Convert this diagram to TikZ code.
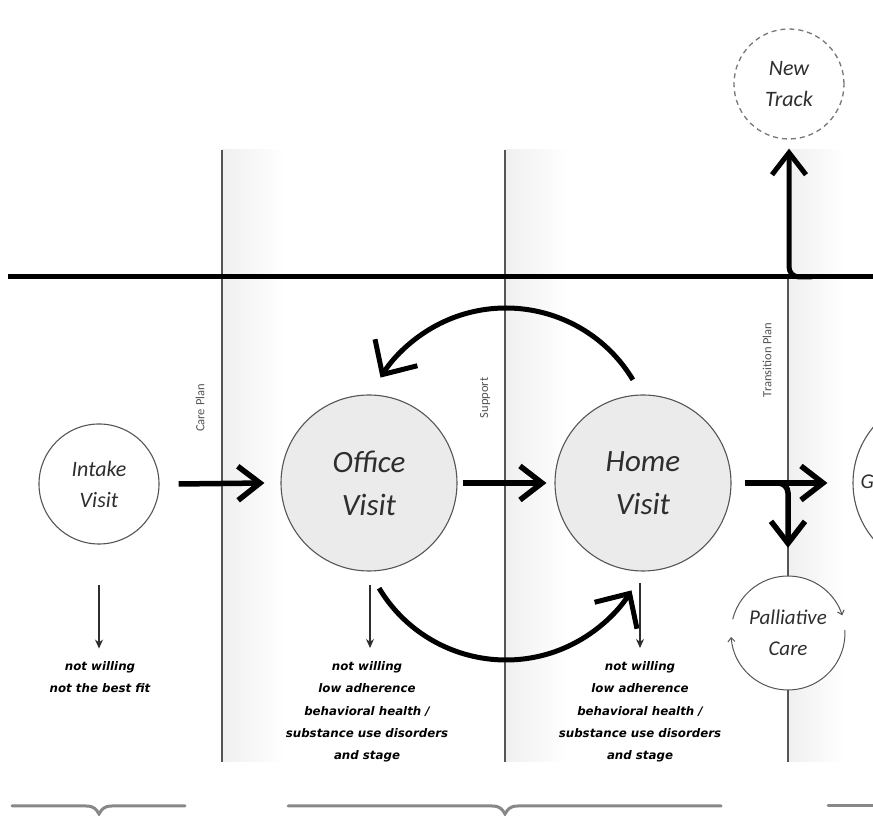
\documentclass[tikz,border=0pt]{standalone}
\usepackage{fontspec}
\setmainfont{Carlito}
\newfontfamily\notefont{DejaVu Sans}
\usetikzlibrary{arrows.meta}
\definecolor{lineg}{HTML}{555555}
\definecolor{fillg}{HTML}{EBEBEB}
\definecolor{txt}{HTML}{2E2E2E}
\definecolor{braceg}{HTML}{888888}
\tikzset{
  visit/.style={circle, draw=lineg, line width=1.1pt, inner sep=0pt, text=txt, font=\itshape, align=center},
  bigvisit/.style={visit, fill=fillg, minimum size=176pt, font=\fontsize{31}{43}\selectfont\itshape},
  smallvisit/.style={visit, fill=white, minimum size=120pt, font=\fontsize{22}{31}\selectfont\itshape},
  divider/.style={lineg, line width=1.2pt},
  bigarrow/.style={line width=5.5pt, -{Straight Barb[length=22pt,width=34pt]}},
  curvearrow/.style={line width=5pt, -{Straight Barb[length=26pt,width=50pt]}},
  thinarrow/.style={line width=1.2pt, txt, -{Stealth[length=9pt,width=8pt]}},
  note/.style={align=center, text=black, font=\notefont\fontsize{11.8}{22.3}\selectfont\bfseries\itshape},
  phase/.style={rotate=90, text=lineg, font=\fontsize{12.5}{14}\selectfont},
  cyclearc/.style={lineg, line width=1pt, -{Straight Barb[length=4pt,width=7pt]}},
  bracestyle/.style={braceg, line width=3pt, line cap=round}
}
\begin{document}
\begin{tikzpicture}[x=1pt,y=1pt]
\useasboundingbox (0,0) rectangle (873,816);
\clip (0,0) rectangle (873,816);
\fill[white] (0,0) rectangle (873,816);

% shaded bands to the right of the dividers
\shade[left color=black!6, right color=white] (222,54) rectangle (285,666);
\shade[left color=black!6, right color=white] (505,54) rectangle (568,666);
\shade[left color=black!6, right color=white] (788,54) rectangle (845,666);

% dividers
\coordinate (d1t) at (222,666); \coordinate (d1b) at (222,54);
\coordinate (d2t) at (505,666); \coordinate (d2b) at (505,54);
\coordinate (d3t) at (788,539); \coordinate (d3b) at (788,54);
\draw[divider] (d1t) -- (d1b);
\draw[divider] (d2t) -- (d2b);
\draw[divider] (d3t) -- (d3b);

% main horizontal line
\coordinate (hl) at (8,539); \coordinate (hr) at (873,539);
\draw[line width=5pt] (hl) -- (hr);

% nodes
\node[smallvisit] (intake) at (99,332) {Intake\\Visit};
\node[bigvisit] (office) at (369,333) {Office\\Visit};
\node[bigvisit] (home) at (643,333) {Home\\Visit};
\node[visit, fill=white, minimum size=174pt] (grad) at (940,333) {};
\node[text=txt, font=\fontsize{21}{31}\selectfont\itshape, anchor=west] (gtext) at (857,334) {G};
\node[smallvisit, draw=lineg!80, dashed, line width=1.3pt, minimum size=110pt, dash pattern=on 5pt off 4pt] (newtrack) at (789,732) {New\\Track};
\fill[white] (788,183) circle (57);
\node[circle, minimum size=114pt, inner sep=0pt, align=center, text=txt, font=\fontsize{21}{31}\selectfont\itshape] (pall) at (788,183) {Palliative\\Care};
\coordinate (pc) at (788,183);
\draw[cyclearc] ([shift={(166:57)}]pc) arc[start angle=166, end angle=18, radius=57];
\draw[cyclearc] ([shift={(3:57)}]pc) arc[start angle=3, end angle=-176, radius=57];

% phase labels
\node[phase] (careplan) at (200,408) {Care Plan};
\node[phase] (support) at (485,418) {Support};
\node[phase] (transition) at (767,456) {Transition Plan};

% straight arrows
\draw[bigarrow] ([xshift=19pt]intake.east) -- ([xshift=-16pt]office.west);
\draw[bigarrow] ([xshift=5pt]office.east) -- ([xshift=-8pt]home.west);
\draw[bigarrow] ([xshift=13pt]home.east) -- ([xshift=-25pt]grad.west);
\coordinate (branch) at (770,333);
\draw[bigarrow, rounded corners=10pt] (branch) -| ([yshift=28pt]pall.north);
\coordinate (ntstart) at (812,539);
\draw[bigarrow, line width=5pt, rounded corners=10pt] (ntstart) -| ([yshift=-9pt]newtrack.south);

% curved arrows
\coordinate (topstart) at (632.9,436.2);
\coordinate (botstart) at (379.1,227.8);
\draw[curvearrow] (topstart) arc[start angle=31, end angle=148, radius=148];
\draw[curvearrow] (botstart) arc[start angle=211, end angle=328, radius=148];

% thin down arrows
\draw[thinarrow] ([yshift=-40pt]intake.south) -- ([yshift=-104pt]intake.south);
\draw[thinarrow] (370,231) -- (370,168);
\draw[thinarrow] (640,233) -- (640,168);

% notes
\node[note, anchor=north] (n1) at (100,158) {not willing\\not the best fit};
\node[note, anchor=north] (n2) at (367,158) {not willing\\low adherence\\behavioral health /\\substance use disorders\\and stage};
\node[note, anchor=north] (n3) at (640,158) {not willing\\low adherence\\behavioral health /\\substance use disorders\\and stage};

% braces
\draw[bracestyle] (12,10) -- (86,10) .. controls (94,10) and (96,7) .. (99,2) .. controls (102,7) and (104,10) .. (112,10) -- (185,10);
\draw[bracestyle] (288,10) -- (492,10) .. controls (500,10) and (502,7) .. (505,2) .. controls (508,7) and (510,10) .. (518,10) -- (721,10);
\draw[bracestyle] (828,10) -- (880,10);
\end{tikzpicture}
\end{document}
